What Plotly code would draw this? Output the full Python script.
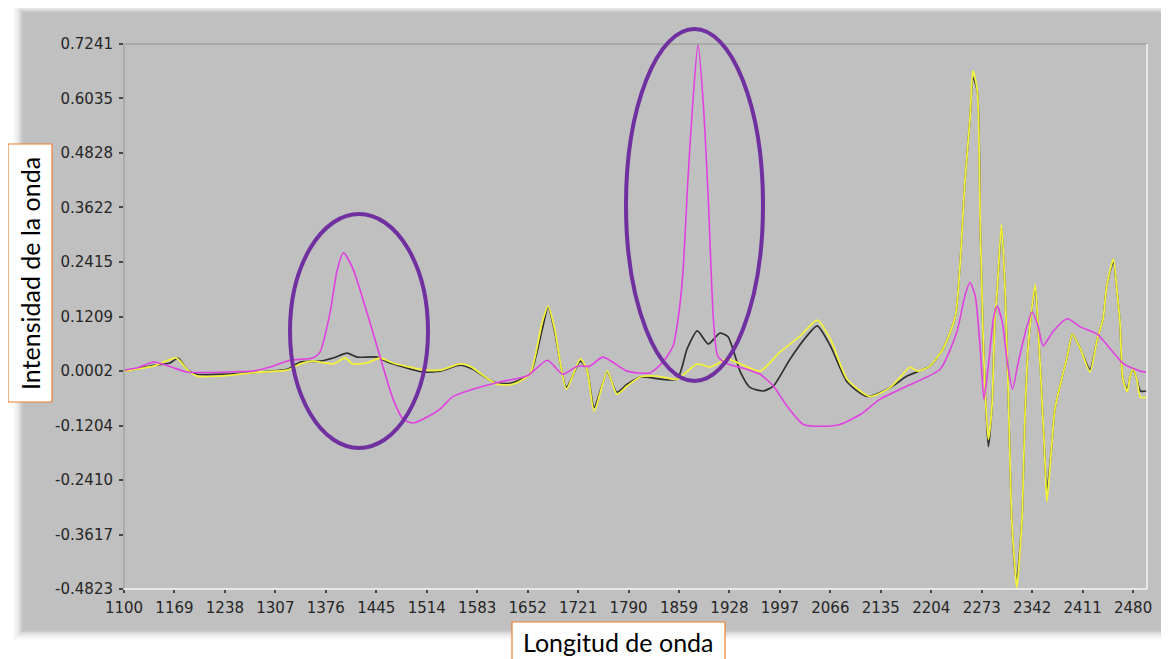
import plotly.graph_objects as go

# ---------------- data ----------------
x_tick_labels = ["1100", "1169", "1238", "1307", "1376", "1445", "1514", "1583", "1652", "1721",
                 "1790", "1859", "1928", "1997", "2066", "2135", "2204", "2273", "2342", "2411", "2480"]
y_tick_labels = ["-0.4823", "-0.3617", "-0.2410", "-0.1204", "0.0002", "0.1209",
                 "0.2415", "0.3622", "0.4828", "0.6035", "0.7241"]

black_wl = [1100, 1120, 1140, 1163, 1174, 1186, 1200, 1231, 1286, 1323, 1341, 1368, 1386, 1405, 1419,
            1446, 1460, 1482, 1509, 1532, 1560, 1577, 1605, 1628, 1655, 1672, 1680, 1689, 1705, 1724,
            1733, 1743, 1761, 1774, 1788, 1806, 1856, 1870, 1884, 1899, 1915, 1926, 1943, 1956, 1974,
            1988, 2011, 2034, 2048, 2066, 2089, 2116, 2148, 2171, 2202, 2220, 2237, 2250, 2257, 2261,
            2267, 2271, 2275, 2278, 2282, 2287, 2291, 2294, 2300, 2305, 2309, 2312, 2314, 2319, 2321,
            2328, 2332, 2336, 2340, 2346, 2350, 2356, 2360, 2362, 2368, 2373, 2380, 2390, 2397, 2408,
            2421, 2431, 2439, 2444, 2453, 2458, 2462, 2466, 2472, 2476, 2480, 2485, 2490, 2499]
black_int = [0.000, 0.006, 0.013, 0.018, 0.029, 0.004, -0.007, -0.007, -0.002, 0.004, 0.020, 0.022, 0.029, 0.040, 0.031,
             0.031, 0.020, 0.009, -0.002, 0.000, 0.013, 0.004, -0.024, -0.027, -0.007, 0.093, 0.142, 0.087, -0.036, 0.022,
             0.004, -0.080, -0.002, -0.047, -0.029, -0.013, -0.018, 0.049, 0.089, 0.060, 0.084, 0.076, -0.002, -0.036, -0.044,
             -0.033, 0.027, 0.078, 0.100, 0.056, -0.024, -0.056, -0.036, -0.011, 0.011, 0.049, 0.122, 0.420, 0.560, 0.650,
             0.620, 0.322, 0.071, -0.056, -0.167, -0.078, 0.116, 0.176, 0.318, 0.176, -0.033, -0.218, -0.329, -0.447, -0.462,
             -0.329, -0.107, 0.042, 0.116, 0.186, 0.100, -0.084, -0.218, -0.267, -0.180, -0.084, -0.033, 0.033, 0.082, 0.049,
             0.004, 0.071, 0.116, 0.189, 0.242, 0.176, 0.109, -0.018, -0.040, -0.011, 0.004, -0.018, -0.044, -0.044]

yellow_wl = [1100, 1140, 1172, 1186, 1200, 1231, 1286, 1323, 1341, 1358, 1386, 1402, 1413, 1432, 1450,
             1468, 1505, 1532, 1560, 1573, 1610, 1632, 1655, 1672, 1680, 1689, 1705, 1724, 1733, 1743,
             1761, 1774, 1788, 1806, 1829, 1856, 1884, 1902, 1925, 1943, 1970, 1997, 2025, 2048, 2066,
             2089, 2120, 2148, 2165, 2175, 2185, 2202, 2220, 2237, 2250, 2257, 2261, 2267, 2271, 2275,
             2278, 2282, 2287, 2291, 2294, 2300, 2305, 2309, 2312, 2314, 2319, 2321, 2328, 2332, 2336,
             2340, 2346, 2350, 2356, 2360, 2362, 2368, 2373, 2380, 2390, 2397, 2408, 2421, 2431, 2439,
             2444, 2453, 2458, 2462, 2466, 2472, 2476, 2480, 2485, 2490, 2499]
yellow_int = [0.000, 0.011, 0.029, 0.004, -0.011, -0.011, -0.002, 0.002, 0.016, 0.022, 0.016, 0.029, 0.016, 0.018, 0.029,
              0.018, 0.004, 0.002, 0.016, 0.011, -0.029, -0.029, -0.007, 0.109, 0.144, 0.093, -0.040, 0.027, 0.004, -0.089,
              0.000, -0.051, -0.033, -0.013, -0.011, -0.018, 0.016, 0.009, 0.027, 0.016, 0.000, 0.042, 0.078, 0.113, 0.071,
              -0.018, -0.056, -0.036, -0.007, 0.009, 0.000, 0.011, 0.049, 0.122, 0.420, 0.560, 0.665, 0.620, 0.322, 0.071,
              -0.056, -0.151, -0.078, 0.116, 0.176, 0.325, 0.176, -0.033, -0.218, -0.329, -0.447, -0.480, -0.329, -0.107, 0.042,
              0.116, 0.192, 0.100, -0.084, -0.218, -0.289, -0.180, -0.084, -0.033, 0.033, 0.082, 0.049, -0.002, 0.071, 0.116,
              0.189, 0.248, 0.176, 0.109, -0.018, -0.045, -0.011, 0.004, -0.018, -0.058, -0.058]

magenta_wl = [1100, 1120, 1140, 1160, 1186, 1220, 1259, 1276, 1300, 1327, 1358, 1368, 1382, 1391, 1400,
              1413, 1432, 1450, 1468, 1482, 1495, 1514, 1532, 1550, 1577, 1614, 1651, 1679, 1700, 1720,
              1737, 1755, 1788, 1819, 1837, 1851, 1860, 1865, 1871, 1878, 1885, 1892, 1899, 1906, 1912,
              1925, 1952, 1970, 1988, 2007, 2029, 2056, 2079, 2107, 2134, 2171, 2216, 2239, 2250, 2257,
              2264, 2271, 2276, 2282, 2289, 2294, 2301, 2308, 2315, 2323, 2335, 2342, 2350, 2357, 2371,
              2390, 2408, 2431, 2449, 2467, 2490, 2498]
magenta_int = [0.002, 0.008, 0.020, 0.012, -0.002, -0.003, -0.001, 0.000, 0.009, 0.024, 0.029, 0.042, 0.131, 0.220, 0.262,
               0.227, 0.131, 0.033, -0.062, -0.107, -0.115, -0.102, -0.084, -0.056, -0.040, -0.024, -0.011, 0.024, -0.007, 0.011,
               0.011, 0.031, 0.000, -0.004, 0.020, 0.056, 0.144, 0.233, 0.420, 0.598, 0.724, 0.598, 0.382, 0.116, 0.033,
               0.016, 0.004, -0.007, -0.033, -0.078, -0.118, -0.122, -0.118, -0.096, -0.062, -0.033, 0.004, 0.087, 0.167, 0.196,
               0.167, 0.049, -0.062, 0.011, 0.116, 0.144, 0.109, 0.020, -0.040, 0.020, 0.100, 0.131, 0.100, 0.056, 0.089,
               0.116, 0.098, 0.082, 0.049, 0.016, 0.000, -0.002]

x_title = "Longitud de onda"
y_title = "Intensidad de la onda"

# ---------------- geometry (page pixels; the page body has an 8px margin) ----------------
PAGE_W, PAGE_H, BODY = 1169, 659, 8
W, H = PAGE_W - BODY, PAGE_H - BODY
PL, PR, PT, PB = 124, 1147, 44, 589          # plot-area edges in page pixels
PW, PH = PR - PL, PB - PT


def fx(p):
    return (p - PL) / PW


def fy(p):
    return (PB - p) / PH


fig = go.Figure()
fig.add_trace(go.Scatter(x=black_wl, y=black_int, mode="lines",
                         line=dict(color="#303030", width=1.7, shape="spline", smoothing=0.6),
                         hoverinfo="skip"))
fig.add_trace(go.Scatter(x=yellow_wl, y=yellow_int, mode="lines",
                         line=dict(color="#f2f23a", width=1.8, shape="spline", smoothing=0.6),
                         hoverinfo="skip"))
fig.add_trace(go.Scatter(x=magenta_wl, y=magenta_int, mode="lines",
                         line=dict(color="#e040e0", width=1.6, shape="spline", smoothing=0.6),
                         hoverinfo="skip"))

shapes = []
# soft shadow behind the grey panel
for grow, alpha in [(10, 0.02), (8, 0.03), (6, 0.04), (4, 0.06), (2, 0.08)]:
    shapes.append(dict(type="rect", xref="paper", yref="paper", layer="below",
                       x0=fx(23 - grow), x1=fx(1163 + grow), y0=fy(630 + grow), y1=fy(13 - grow),
                       line=dict(width=0), fillcolor="rgba(0,0,0,%s)" % alpha))
# grey panel
shapes.append(dict(type="rect", xref="paper", yref="paper", layer="below",
                   x0=fx(23), x1=fx(1163), y0=fy(630), y1=fy(13),
                   line=dict(width=0), fillcolor="#c0c0c0"))
# bevelled frame of the plot area
shapes.append(dict(type="line", xref="paper", yref="paper", x0=0, x1=1, y0=1, y1=1,
                   line=dict(color="#a4a49c", width=1.5)))
shapes.append(dict(type="line", xref="paper", yref="paper", x0=0, x1=0, y0=0, y1=1,
                   line=dict(color="#a4a49c", width=1.5)))
shapes.append(dict(type="line", xref="paper", yref="paper", x0=0, x1=1, y0=0, y1=0,
                   line=dict(color="#f4f4f4", width=1.5)))
shapes.append(dict(type="line", xref="paper", yref="paper", x0=1, x1=1, y0=0, y1=1,
                   line=dict(color="#f4f4f4", width=1.5)))
# highlighted regions (ellipses)
for (l, r, t, b) in [(290, 428, 214, 448), (626, 763, 29, 381)]:
    shapes.append(dict(type="circle", xref="paper", yref="paper",
                       x0=fx(l), x1=fx(r), y0=fy(b), y1=fy(t),
                       line=dict(color="#7030a0", width=4)))
# axis title boxes
shapes.append(dict(type="rect", xref="paper", yref="paper",
                   x0=fx(8), x1=fx(52), y0=fy(402), y1=fy(144),
                   line=dict(color="#ed7d31", width=1.2), fillcolor="white"))
shapes.append(dict(type="rect", xref="paper", yref="paper",
                   x0=fx(512), x1=fx(725), y0=fy(665), y1=fy(622),
                   line=dict(color="#ed7d31", width=1.2), fillcolor="white"))

annotations = [
    dict(text=y_title, xref="paper", yref="paper", x=fx(30), y=fy(274), showarrow=False,
         textangle=-90, font=dict(family="Lato", size=25, color="black"),
         xanchor="center", yanchor="middle"),
    dict(text=x_title, xref="paper", yref="paper", x=fx(618), y=fy(642), showarrow=False,
         font=dict(family="Lato", size=25, color="black"),
         xanchor="center", yanchor="middle"),
]

tick_x = [float(v) for v in x_tick_labels]
tick_y = [float(v) for v in y_tick_labels]
tick_font = dict(family="DejaVu Sans", size=15, color="#262626")

fig.update_layout(
    width=W, height=H,
    margin=dict(l=PL - BODY, r=W - (PR - BODY), t=PT - BODY, b=H - (PB - BODY)),
    paper_bgcolor="white", plot_bgcolor="#c0c0c0",
    showlegend=False,
    shapes=shapes, annotations=annotations,
    xaxis=dict(range=[1100, 2499], tickmode="array", tickvals=tick_x, ticktext=x_tick_labels,
               showgrid=False, zeroline=False, showline=False,
               ticks="outside", ticklen=3, tickwidth=1.5, tickcolor="#444444",
               ticklabelstandoff=2, tickfont=tick_font),
    yaxis=dict(range=[-0.4823, 0.7241], tickmode="array", tickvals=tick_y, ticktext=y_tick_labels,
               showgrid=False, zeroline=False, showline=False,
               ticks="outside", ticklen=4, tickwidth=1.5, tickcolor="#444444",
               ticklabelstandoff=3, tickfont=tick_font),
)

fig.write_html("out.html")
